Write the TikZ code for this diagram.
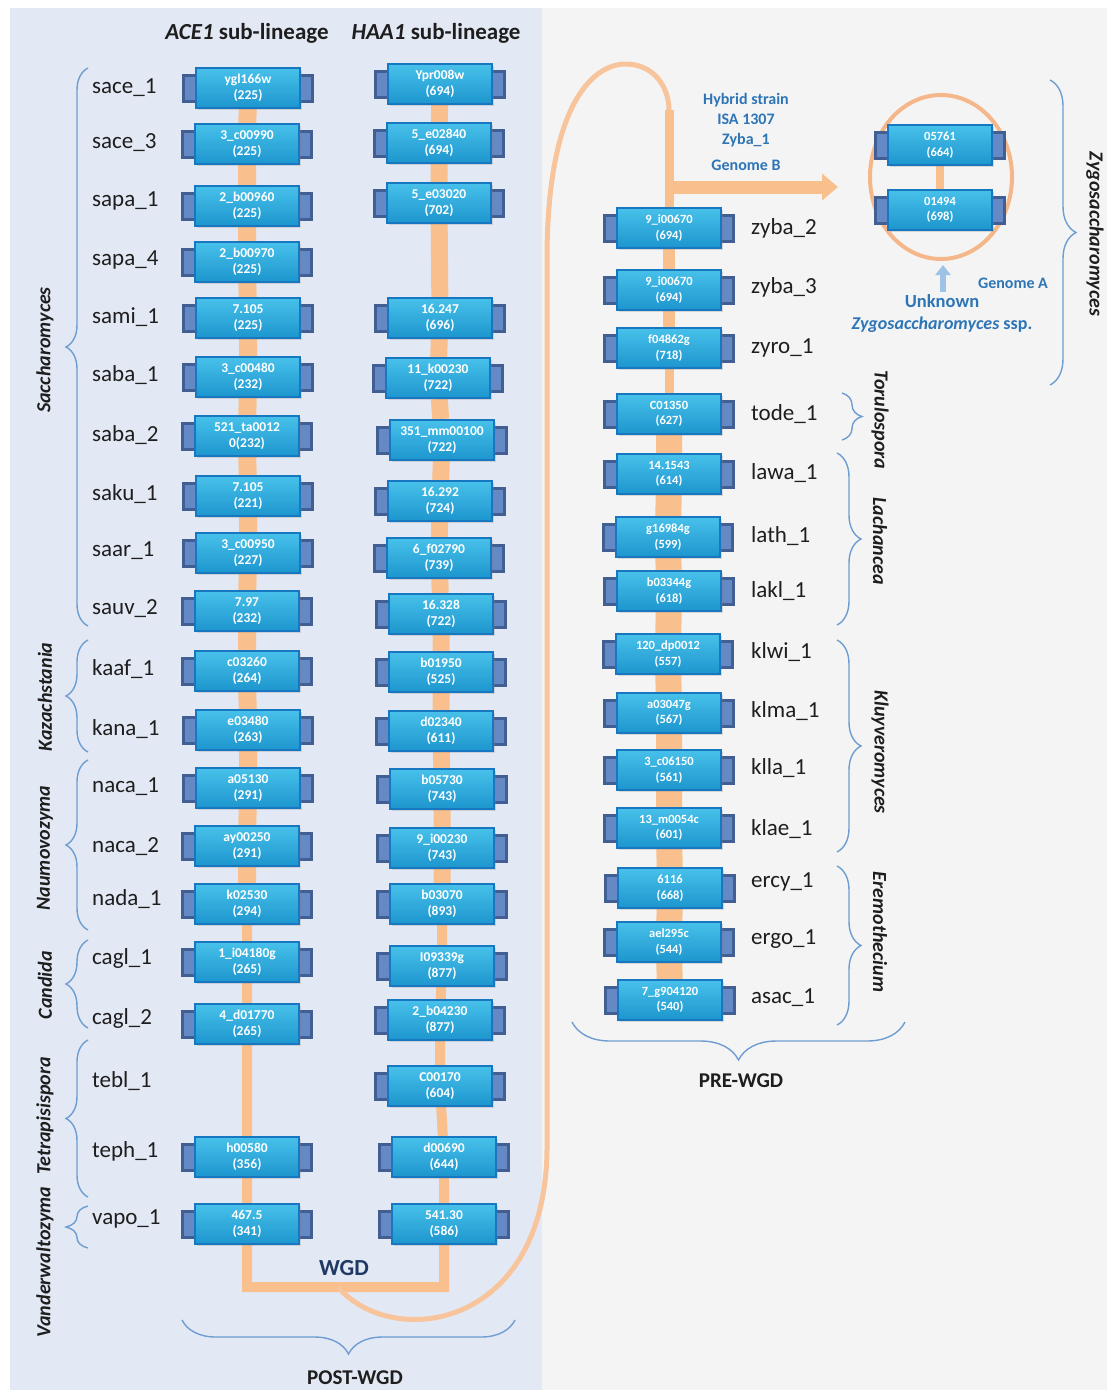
\documentclass[tikz,border=0pt]{standalone}
\usepackage{fontspec}
\setmainfont{Carlito}
\usetikzlibrary{shapes.geometric,decorations.pathreplacing,arrows.meta,shadows}

\definecolor{leftbg}{HTML}{E3E9F4}
\definecolor{rightbg}{HTML}{F4F4F4}
\definecolor{orng}{HTML}{F9C08E}
\definecolor{orngcurve}{HTML}{F8C49C}
\definecolor{ellcol}{HTML}{F5B789}
\definecolor{boxtop}{HTML}{47C1EA}
\definecolor{boxbot}{HTML}{1D95CE}
\definecolor{boxline}{HTML}{1777C1}
\definecolor{tabdark}{HTML}{425F94}
\definecolor{tablight}{HTML}{6589C4}
\definecolor{bracecol}{HTML}{6E9DD2}
\definecolor{annotcol}{HTML}{2E75B6}
\definecolor{wgdcol}{HTML}{1F3864}
\definecolor{txtcol}{HTML}{1E1E1E}
\definecolor{upcol}{HTML}{9DC3E6}

\pgfdeclarelayer{bg}
\pgfdeclarelayer{conn}
\pgfsetlayers{bg,conn,main}

\tikzset{
  gene/.style={rectangle, draw=boxline, line width=2pt, top color=boxtop, bottom color=boxbot,
    minimum width=104pt, minimum height=40pt, inner sep=0pt, text=white, align=center,
    font=\fontsize{13.5}{16}\selectfont\bfseries,
    drop shadow={shadow xshift=1.5pt, shadow yshift=-2pt, opacity=0.25}},
  genesm/.style={gene, font=\fontsize{12.5}{15.5}\selectfont\bfseries},
  sp/.style={anchor=west, inner sep=0pt, font=\fontsize{23}{26}\selectfont, text=txtcol},
  genusL/.style={rotate=90, inner sep=0pt, font=\fontsize{20}{22}\selectfont\bfseries\itshape, text=txtcol},
  genusR/.style={rotate=-90, inner sep=0pt, font=\fontsize{20}{22}\selectfont\bfseries\itshape, text=txtcol},
  brc/.style={draw=bracecol, line width=1.4pt, decorate, decoration={brace, amplitude=#1}},
  cline/.style={draw=orng, line width=#1, line join=miter},
  anno/.style={inner sep=0pt, text=annotcol, font=\fontsize{16}{18}\selectfont\bfseries},
  ttl/.style={inner sep=0pt, text=txtcol, font=\fontsize{23}{26}\selectfont\bfseries},
  wgdlab/.style={inner sep=0pt, font=\fontsize{21}{23}\selectfont\bfseries, text=txtcol},
}

% style, name, x, y, line1, line2
\newcommand{\genebox}[6]{%
  \fill[tabdark] (#3-66,#4-14.5) rectangle (#3-50,#4+14.5);
  \fill[tablight] (#3-63,#4-11.5) rectangle (#3-50,#4+11.5);
  \fill[tabdark] (#3+50,#4-14.5) rectangle (#3+66,#4+14.5);
  \fill[tablight] (#3+50,#4-11.5) rectangle (#3+63,#4+11.5);
  \node[#1] (#2) at (#3,#4) {#5\\#6};
}

\begin{document}
\begin{tikzpicture}[x=1pt,y=-1pt]
\useasboundingbox (0,0) rectangle (1109,1390);

\begin{pgfonlayer}{bg}
  \fill[white] (0,0) rectangle (1109,1390);
  \fill[leftbg] (10,8) rectangle (542,1390);
  \fill[rightbg] (542,8) rectangle (1107,1390);
\end{pgfonlayer}

% titles
\node[ttl] (tA) at (247,33) {\textit{ACE1} sub-lineage};
\node[ttl] (tH) at (436,33) {\textit{HAA1} sub-lineage};

% ACE1 column
\genebox{gene}{a1}{248}{88}{ygl166w}{(225)}
\genebox{gene}{a2}{247}{144}{3\_c00990}{(225)}
\genebox{gene}{a3}{247}{206}{2\_b00960}{(225)}
\genebox{gene}{a4}{247}{262}{2\_b00970}{(225)}
\genebox{gene}{a5}{248}{318}{7.105}{(225)}
\genebox{gene}{a6}{248}{377}{3\_c00480}{(232)}
\genebox{gene}{a7}{247}{436}{521\_ta0012}{0(232)}
\genebox{gene}{a8}{248}{496}{7.105}{(221)}
\genebox{gene}{a9}{248}{553}{3\_c00950}{(227)}
\genebox{gene}{a10}{247}{611}{7.97}{(232)}
\genebox{gene}{a11}{247}{671}{c03260}{(264)}
\genebox{gene}{a12}{248}{730}{e03480}{(263)}
\genebox{gene}{a13}{248}{788}{a05130}{(291)}
\genebox{gene}{a14}{247}{846}{ay00250}{(291)}
\genebox{gene}{a15}{247}{904}{k02530}{(294)}
\genebox{gene}{a16}{247}{962}{1\_i04180g}{(265)}
\genebox{gene}{a17}{247}{1024}{4\_d01770}{(265)}
\genebox{gene}{a18}{247}{1157}{h00580}{(356)}
\genebox{gene}{a19}{247}{1224}{467.5}{(341)}

% HAA1 column
\genebox{gene}{b1}{440}{84}{Ypr008w}{(694)}
\genebox{gene}{b2}{439}{143}{5\_e02840}{(694)}
\genebox{gene}{b3}{439}{203}{5\_e03020}{(702)}
\genebox{gene}{b4}{440}{318}{16.247}{(696)}
\genebox{gene}{b5}{438}{378}{11\_k00230}{(722)}
\genebox{gene}{b6}{442}{440}{351\_mm00100}{(722)}
\genebox{gene}{b7}{440}{501}{16.292}{(724)}
\genebox{gene}{b8}{439}{558}{6\_f02790}{(739)}
\genebox{gene}{b9}{441}{614}{16.328}{(722)}
\genebox{gene}{b10}{441}{672}{b01950}{(525)}
\genebox{gene}{b11}{441}{731}{d02340}{(611)}
\genebox{gene}{b12}{442}{789}{b05730}{(743)}
\genebox{gene}{b13}{442}{848}{9\_i00230}{(743)}
\genebox{gene}{b14}{442}{904}{b03070}{(893)}
\genebox{gene}{b15}{442}{966}{I09339g}{(877)}
\genebox{gene}{b16}{440}{1020}{2\_b04230}{(877)}
\genebox{gene}{b17}{440}{1086}{C00170}{(604)}
\genebox{gene}{b18}{444}{1157}{d00690}{(644)}
\genebox{gene}{b19}{444}{1224}{541.30}{(586)}

% pre-WGD column
\genebox{genesm}{c1}{669}{228}{9\_i00670}{(694)}
\genebox{genesm}{c2}{669}{290}{9\_i00670}{(694)}
\genebox{genesm}{c3}{669}{348}{f04862g}{(718)}
\genebox{genesm}{c4}{669}{414}{C01350}{(627)}
\genebox{genesm}{c5}{669}{474}{14.1543}{(614)}
\genebox{genesm}{c6}{668}{537}{g16984g}{(599)}
\genebox{genesm}{c7}{669}{591}{b03344g}{(618)}
\genebox{genesm}{c8}{668}{654}{120\_dp0012}{(557)}
\genebox{genesm}{c9}{669}{713}{a03047g}{(567)}
\genebox{genesm}{c10}{669}{770}{3\_c06150}{(561)}
\genebox{genesm}{c11}{669}{828}{13\_m0054c}{(601)}
\genebox{genesm}{c12}{670}{888}{6116}{(668)}
\genebox{genesm}{c13}{669}{942}{ael295c}{(544)}
\genebox{genesm}{c14}{670}{1000}{7\_g904120}{(540)}

% hybrid genome A
\node[draw=ellcol, line width=4pt, ellipse, minimum width=142pt, minimum height=164pt, inner sep=0pt] (ell) at (941,177) {};
\genebox{genesm}{z1}{940}{145}{05761}{(664)}
\genebox{genesm}{z2}{940}{210}{01494}{(698)}

% coordinates for connectors
\coordinate (wgdL) at (247,1287);
\coordinate (wgdR) at (444,1287);
\coordinate (curveStart) at (338,1287);
\coordinate (preTop) at (669,110);
\coordinate (arrStart) at (669,187);
\coordinate (arrEnd) at (838,187);
\coordinate (upS) at (943,292);
\coordinate (upE) at (943,265);

\begin{pgfonlayer}{conn}
  \draw[cline=18pt] (a1) -- (a2) -- (a3) -- (a4) -- (a5) -- (a6) -- (a7) -- (a8) -- (a9) -- (a10) -- (a11) -- (a12) -- (a13) -- (a14) -- (a15);
  \draw[cline=10pt] (a15) -- (a16) -- (a17) -- (a18) -- (a19) -- (wgdL) -- (wgdR) -- (b19) -- (b18) -- (b17) -- (b16) -- (b15) -- (b14);
  \draw[cline=17pt] (b14) -- (b13) -- (b12) -- (b11) -- (b10) -- (b9) -- (b8) -- (b7) -- (b6) -- (b5) -- (b4) -- (b3) -- (b2) -- (b1);
  \draw[cline=9pt] (preTop) -- (c1);
  \draw[cline=12pt] (c1) -- (c2) -- (c3);
  \draw[cline=9pt] (c3) -- (c4);
  \draw[cline=26pt] (c4) -- (c5) -- (c6) -- (c7) -- (c8) -- (c9) -- (c10) -- (c11) -- (c12) -- (c13) -- (c14);
  \draw[cline=8pt] (z1) -- (z2);
  \draw[orngcurve, line width=5pt] (curveStart) .. controls (392,1350) and (545,1330) .. (547,1150)
     -- (547,260) .. controls (547,95) and (598,63) .. (627,64) .. controls (655,65) and (669,88) .. (preTop);
  \draw[orng, line width=13pt, -{Triangle[length=16pt,width=26pt]}] (arrStart) -- (arrEnd);
\end{pgfonlayer}

\draw[upcol, line width=6pt, -{Triangle[length=10pt,width=15pt]}] (upS) -- (upE);

% annotations
\node[anno] (h1) at (746,100) {Hybrid strain};
\node[anno] (h2) at (746,119) {ISA 1307};
\node[anno] (h3) at (746,140) {Zyba\_1};
\node[anno] (h4) at (746,165) {Genome B};
\node[anno] (gA) at (1013,283) {Genome A};
\node[anno, font=\fontsize{18.5}{20}\selectfont\bfseries] (unk) at (942,301) {Unknown};
\node[anno, font=\fontsize{18}{20}\selectfont\bfseries] (zss) at (942,325) {\textit{Zygosaccharomyces} ssp.};

\node[inner sep=0pt, text=wgdcol, font=\fontsize{23}{25}\selectfont\bfseries] (wgd) at (344,1268) {WGD};

% species labels left
\node[sp] (l1) at (92,88) {sace\_1};
\node[sp] (l2) at (92,143) {sace\_3};
\node[sp] (l3) at (92,201) {sapa\_1};
\node[sp] (l4) at (92,260) {sapa\_4};
\node[sp] (l5) at (92,317) {sami\_1};
\node[sp] (l6) at (92,375) {saba\_1};
\node[sp] (l7) at (92,435) {saba\_2};
\node[sp] (l8) at (92,494) {saku\_1};
\node[sp] (l9) at (92,551) {saar\_1};
\node[sp] (l10) at (92,609) {sauv\_2};
\node[sp] (l11) at (92,669) {kaaf\_1};
\node[sp] (l12) at (92,729) {kana\_1};
\node[sp] (l13) at (92,787) {naca\_1};
\node[sp] (l14) at (92,847) {naca\_2};
\node[sp] (l15) at (92,899) {nada\_1};
\node[sp] (l16) at (92,958) {cagl\_1};
\node[sp] (l17) at (92,1018) {cagl\_2};
\node[sp] (l18) at (92,1081) {tebl\_1};
\node[sp] (l19) at (92,1151) {teph\_1};
\node[sp] (l20) at (92,1219) {vapo\_1};

% species labels right
\node[sp] (r1) at (751,228) {zyba\_2};
\node[sp] (r2) at (751,287) {zyba\_3};
\node[sp] (r3) at (751,348) {zyro\_1};
\node[sp] (r4) at (751,414) {tode\_1};
\node[sp] (r5) at (751,473) {lawa\_1};
\node[sp] (r6) at (751,536) {lath\_1};
\node[sp] (r7) at (751,591) {lakl\_1};
\node[sp] (r8) at (751,652) {klwi\_1};
\node[sp] (r9) at (751,711) {klma\_1};
\node[sp] (r10) at (751,768) {klla\_1};
\node[sp] (r11) at (751,829) {klae\_1};
\node[sp] (r12) at (751,882) {ercy\_1};
\node[sp] (r13) at (751,939) {ergo\_1};
\node[sp] (r14) at (751,998) {asac\_1};

% genus braces left
\draw[brc=22pt] (88,626) -- (88,68);
\draw[brc=22pt] (88,752) -- (88,640);
\draw[brc=22pt] (88,930) -- (88,760);
\draw[brc=22pt] (88,1028) -- (88,940);
\draw[brc=22pt] (88,1197) -- (88,1040);
\draw[brc=22pt] (88,1248) -- (88,1206);

\node[genusL] (gS) at (45,350) {Saccharomyces};
\node[genusL] (gK) at (45,697) {Kazachstania};
\node[genusL] (gN) at (45,848) {Naumovozyma};
\node[genusL] (gC) at (45,985) {Candida};
\node[genusL] (gT) at (45,1116) {Tetrapisispora};
\node[genusL] (gV) at (45,1262) {Vanderwaltozyma};

% genus braces right
\draw[brc=20pt] (842,393) -- (842,440);
\draw[brc=24pt] (837,453) -- (837,625);
\draw[brc=24pt] (837,640) -- (837,852);
\draw[brc=24pt] (837,866) -- (837,1025);
\draw[brc=26pt] (1050,80) -- (1050,385);

\node[genusR] (gTo) at (880,420) {Torulospora};
\node[genusR] (gL) at (880,541) {Lachancea};
\node[genusR] (gKl) at (880,752) {Kluyveromyces};
\node[genusR] (gE) at (880,932) {Eremothecium};
\node[genusR] (gZ) at (1095,234) {Zygosaccharomyces};

% bottom braces
\draw[brc=34pt] (515,1320) -- (182,1320);
\draw[brc=38pt] (905,1022) -- (572,1022);
\node[wgdlab] (post) at (355,1378) {POST-WGD};
\node[wgdlab] (pre) at (741,1081) {PRE-WGD};

\end{tikzpicture}
\end{document}
